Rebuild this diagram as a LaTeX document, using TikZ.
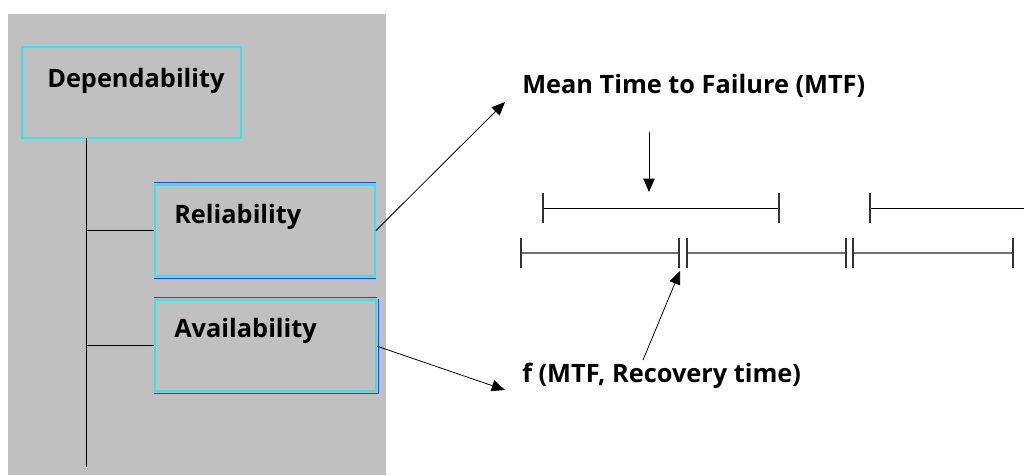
\documentclass[tikz,border=0pt]{standalone}
\usepackage{fontspec}
\setmainfont{Open Sans}
\usetikzlibrary{arrows.meta}
\definecolor{bg}{HTML}{C0C0C0}
\definecolor{cy}{HTML}{30E8EC}
\definecolor{bl}{HTML}{3838E8}
\definecolor{tl}{HTML}{707070}
\begin{document}
\begin{tikzpicture}[x=0.75pt,y=-0.75pt,
  lbl/.style={font=\bfseries\fontsize{19}{22}\selectfont, inner sep=0pt, anchor=base west},
  cbox/.style={draw=cy, line width=1.4pt, rectangle, inner sep=0pt},
  bedge/.style={draw=bl, line width=1pt},
  conn/.style={draw=black, line width=0.65pt},
  arr/.style={draw=black, line width=0.6pt, -{Triangle[length=10pt,width=8.5pt]}},
  upseg/.style={draw=black, line width=0.65pt},
  loseg/.style={draw=tl, line width=0.9pt},
  tick/.style={draw=black!80, line width=0.8pt}
]
\useasboundingbox (0,0) rectangle (1024,475);
\fill[bg] (8,14) rectangle (386,475);

% boxes
\node[cbox, minimum width=164.25pt, minimum height=68.25pt] (dep) at (131.5,92.5) {};
\node[cbox, minimum width=165pt, minimum height=68.25pt] (rel) at (265,230.5) {};
\node[cbox, minimum width=165.75pt, minimum height=68.25pt] (ava) at (265.5,345.5) {};
\draw[bedge] ([yshift=-1.2pt]rel.south west) -- ([yshift=-1.2pt]rel.south east);
\draw[bedge] ([yshift=1.2pt]rel.north west) -- ([yshift=1.2pt]rel.north east);
\draw[bedge] ([yshift=-1.2pt]ava.south west) -- ([xshift=1.2pt,yshift=-1.2pt]ava.south east) -- ([xshift=1.2pt]ava.north east);
\draw[bedge] ([yshift=1.2pt]ava.north west) -- ([yshift=1.2pt]ava.north east);

\node[lbl] (tdep) at (47,87) {Dependability};
\node[lbl] (trel) at (174,223) {Reliability};
\node[lbl] (tava) at (174,337) {Availability};

% tree connectors
\coordinate (trunktop) at (86,138);
\coordinate (trunkbot) at (86,467);
\draw[conn] (trunktop) -- (trunkbot);
\draw[conn] (rel.west) -- (rel.west -| trunktop);
\draw[conn] (ava.west) -- (ava.west -| trunktop);

% right-side labels
\node[lbl] (mtf) at (522,93) {Mean Time to Failure (MTF)};
\node[lbl] (fmtf) at (522,382) {f (MTF, Recovery time)};

\coordinate (tipM) at (505,102);
\coordinate (tipF) at (505,390);
\draw[arr] (rel.east) -- (tipM);
\draw[arr] ([yshift=-0.5pt]ava.east) -- (tipF);

% timeline
\coordinate (u1a) at (543,208);
\coordinate (u1b) at (779,208);
\coordinate (u2a) at (870,208);
\coordinate (u2b) at (1024,208);
\coordinate (l1a) at (521,253);
\coordinate (l1b) at (679,253);
\coordinate (l2a) at (687,253);
\coordinate (l2b) at (846,253);
\coordinate (l3a) at (853,253);
\coordinate (l3b) at (1013,253);

\draw[upseg] (u1a) -- (u1b);
\draw[upseg] (u2a) -- (u2b);
\draw[loseg] (l1a) -- (l1b);
\draw[loseg] (l2a) -- (l2b);
\draw[loseg] (l3a) -- (l3b);
\foreach \p in {u1a,u1b,u2a}{
  \draw[tick] ([yshift=11.25pt]\p) -- ([yshift=-11.25pt]\p);
}
\foreach \p in {l1a,l1b,l2a,l2b,l3a,l3b}{
  \draw[tick] ([yshift=11.6pt]\p) -- ([yshift=-11.6pt]\p);
}

% arrows to timeline
\coordinate (downS) at (649,132);
\coordinate (downT) at (649,192);
\draw[arr] (downS) -- (downT);
\coordinate (fS) at (643,360);
\coordinate (fT) at (680,271);
\draw[arr] (fS) -- (fT);
\end{tikzpicture}
\end{document}
